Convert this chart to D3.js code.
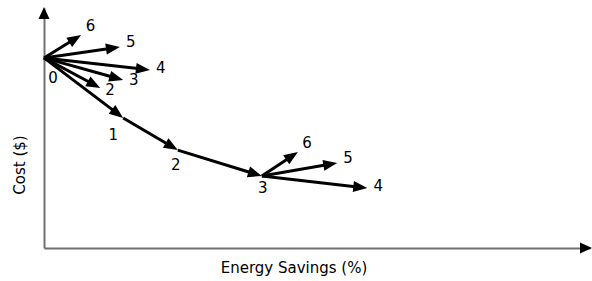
<!DOCTYPE html>
<html>
<head>
<meta charset="utf-8">
<script src="https://cdn.jsdelivr.net/npm/d3@7"></script>
<style>
    body { margin: 0; background: #fff; }
    text { font-family: "DejaVu Sans", Verdana, sans-serif; fill: #000; }
</style>
</head>
<body>
<svg></svg>
<script>
// main path (steps 0..3)
const pathLabels = ["0", "1", "2", "3"];
const pathSavings = [0, 14.5, 24.5, 39.9];
const pathCost = [79.2, 54.2, 40.8, 30];

// options branching from step 0
const branch0Labels = ["2", "3", "4", "5", "6"];
const branch0Savings = [10.3, 14.5, 19.4, 13.9, 6.8];
const branch0Cost = [66.7, 70, 74.2, 83.75, 88.75];

// options branching from step 3
const branch3Labels = ["4", "5", "6"];
const branch3Savings = [59.2, 53.7, 46.5];
const branch3Cost = [25, 35.4, 40];

const width = 592,
    height = 281;

const svg = d3.select("svg").attr("width", width).attr("height", height);

const xScale = d3.scaleLinear().domain([0, 100]).range([44, 590]);
const yScale = d3.scaleLinear().domain([0, 100]).range([248, 8]);

// arrow helper: line + filled head
const drawArrow = (x1, y1, x2, y2, opts) => {
    const len = Math.hypot(x2 - x1, y2 - y1);
    const ux = (x2 - x1) / len,
        uy = (y2 - y1) / len;
    const hl = opts.headLen,
        hw = opts.headWidth / 2;
    svg.append("line")
        .attr("x1", x1)
        .attr("y1", y1)
        .attr("x2", x2 - ux * (hl - 2))
        .attr("y2", y2 - uy * (hl - 2))
        .attr("stroke", opts.color)
        .attr("stroke-width", opts.stroke);
    const bx = x2 - ux * hl,
        by = y2 - uy * hl;
    svg.append("path")
        .attr(
            "d",
            `M${x2},${y2}L${bx - uy * hw},${by + ux * hw}L${bx + uy * hw},${by - ux * hw}Z`
        )
        .attr("fill", "#000");
};

// axes
const xAxis = d3.axisBottom(xScale).ticks(0).tickSizeOuter(0);
const yAxis = d3.axisLeft(yScale).ticks(0).tickSizeOuter(0);

svg.append("g")
    .attr("transform", "translate(0," + yScale(0) + ")")
    .call(xAxis)
    .select(".domain")
    .attr("stroke", "#707070")
    .attr("stroke-width", 2);

svg.append("g")
    .attr("transform", "translate(" + xScale(0) + ",0)")
    .call(yAxis)
    .select(".domain")
    .attr("stroke", "#707070")
    .attr("stroke-width", 2);

// axis arrowheads
const axisHead = (tipX, tipY, dx, dy) => {
    const hl = 12,
        hw = 5.5;
    const bx = tipX - dx * hl,
        by = tipY - dy * hl;
    svg.append("path")
        .attr("d", `M${tipX},${tipY}L${bx - dy * hw},${by + dx * hw}L${bx + dy * hw},${by - dx * hw}Z`)
        .attr("fill", "#000");
};
axisHead(xScale(100) + 2, yScale(0), 1, 0);
axisHead(xScale(0), yScale(100) - 1, 0, -1);

const arrowStyle = { color: "#000", stroke: 3, headLen: 14, headWidth: 11 };

const labelAt = (x, y, t) => {
    svg.append("text")
        .attr("x", x)
        .attr("y", y)
        .attr("text-anchor", "middle")
        .attr("dominant-baseline", "central")
        .style("font-size", "15px")
        .text(t);
};

// branches with labels just past the tip
const drawBranch = (fromIdx, labels, sav, cost) => {
    const x0 = xScale(pathSavings[fromIdx]),
        y0 = yScale(pathCost[fromIdx]);
    labels.forEach((lab, i) => {
        const x1 = xScale(sav[i]),
            y1 = yScale(cost[i]);
        drawArrow(x0, y0, x1, y1, arrowStyle);
        const len = Math.hypot(x1 - x0, y1 - y0);
        labelAt(x1 + ((x1 - x0) / len) * 11, y1 + ((y1 - y0) / len) * 11 - 3, lab);
    });
};

drawBranch(0, branch0Labels, branch0Savings, branch0Cost);
drawBranch(3, branch3Labels, branch3Savings, branch3Cost);

// main path
for (let i = 1; i < pathLabels.length; i++) {
    drawArrow(
        xScale(pathSavings[i - 1]),
        yScale(pathCost[i - 1]),
        xScale(pathSavings[i]),
        yScale(pathCost[i]),
        arrowStyle
    );
}

// step labels below the path points
const stepLabelOffset = [[9, 20], [-10, 17], [-2, 15], [1, 12]];
pathLabels.forEach((lab, i) => {
    labelAt(
        xScale(pathSavings[i]) + stepLabelOffset[i][0],
        yScale(pathCost[i]) + stepLabelOffset[i][1],
        lab
    );
});

// axis titles
svg.append("text")
    .attr("x", 294)
    .attr("y", 268)
    .attr("text-anchor", "middle")
    .attr("dominant-baseline", "central")
    .style("font-size", "15px")
    .text("Energy Savings (%)");

svg.append("text")
    .attr("transform", "translate(20,165) rotate(-90)")
    .attr("text-anchor", "middle")
    .attr("dominant-baseline", "central")
    .style("font-size", "15px")
    .text("Cost ($)");
</script>
</body>
</html>
